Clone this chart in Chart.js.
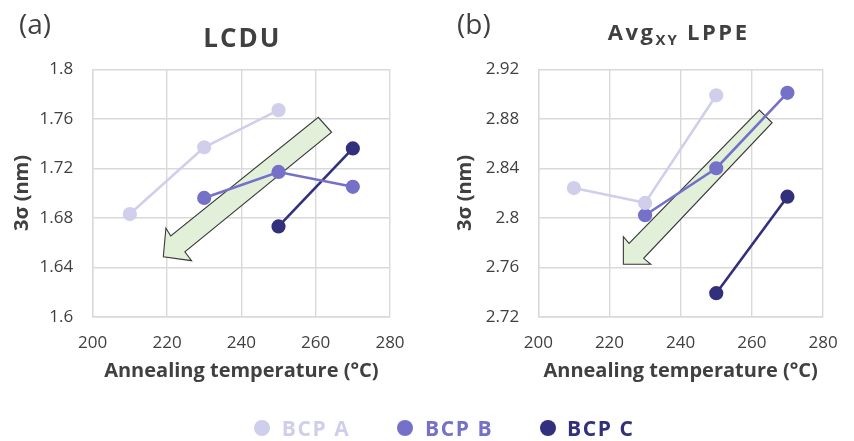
<!DOCTYPE html>
<html><head><meta charset="utf-8">
<script src="https://cdn.jsdelivr.net/npm/chart.js@4.4.1/dist/chart.umd.min.js"></script>
<style>
html,body{margin:0;padding:0;background:#fff;}
#wrap{position:relative;width:854px;height:441px;overflow:hidden;font-family:"Open Sans",Lato,sans-serif;}
canvas{position:absolute;top:0;}
#c1{left:0}
#c2{left:427px}
.leg{position:absolute;top:416px;height:24px;line-height:24px;font-weight:700;font-size:21px;letter-spacing:1.6px;white-space:nowrap;}
.dot{position:absolute;width:16px;height:16px;border-radius:50%;}
</style>
</head><body>
<div id="wrap">
<canvas id="c1" width="427" height="441"></canvas>
<canvas id="c2" width="427" height="441"></canvas>
<div id="legend"></div>
</div>
<script>
// ---- data ----
const seriesNames = ['BCP A', 'BCP B', 'BCP C'];
const tempA = [210, 230, 250];
const tempB = [230, 250, 270];
const tempC = [250, 270];
const lcduA = [1.683, 1.737, 1.767];
const lcduB = [1.696, 1.717, 1.705];
const lcduC = [1.673, 1.736];
const lppeA = [2.824, 2.812, 2.899];
const lppeB = [2.802, 2.840, 2.901];
const lppeC = [2.739, 2.817];
const xTicks = [200, 220, 240, 260, 280];
const lcduTicks = [1.6, 1.64, 1.68, 1.72, 1.76, 1.8];
const lppeTicks = [2.72, 2.76, 2.8, 2.84, 2.88, 2.92];

// ---- styles ----
const colors = ['#d0cfeb', '#7571c9', '#322f7d'];
const textColor = '#404040';
const gridColor = '#d9d9d9';
const FONT = '"Open Sans", Lato, sans-serif';

function pts(xs, ys) { return xs.map((x, i) => ({x: x, y: ys[i]})); }

function makeDatasets(a, b, c) {
  const sets = [[tempA, a], [tempB, b], [tempC, c]];
  return sets.map((s, i) => ({
    label: seriesNames[i],
    data: pts(s[0], s[1]),
    showLine: true,
    borderColor: colors[i],
    backgroundColor: colors[i],
    pointBackgroundColor: colors[i],
    pointBorderColor: colors[i],
    borderWidth: 2.6,
    pointRadius: 5.8,
    pointHoverRadius: 5.8,
    tension: 0
  }));
}

const decorPlugin = {
  id: 'decor',
  beforeDatasetsDraw(chart, args, opts) {
    const ctx = chart.ctx;
    const xs = chart.scales.x, ys = chart.scales.y;
    ctx.save();
    ctx.beginPath();
    opts.arrow.forEach((p, i) => {
      const px = xs.getPixelForValue(p[0]), py = ys.getPixelForValue(p[1]);
      if (i === 0) ctx.moveTo(px, py); else ctx.lineTo(px, py);
    });
    ctx.closePath();
    ctx.fillStyle = '#e2efd9';
    ctx.fill();
    ctx.lineWidth = 1.1;
    ctx.strokeStyle = '#3a3a3a';
    ctx.stroke();
    ctx.restore();
  },
  afterDraw(chart, args, opts) {
    const ctx = chart.ctx;
    ctx.save();
    ctx.fillStyle = textColor;
    ctx.textBaseline = 'alphabetic';
    ctx.textAlign = 'left';
    ctx.font = '400 28px ' + FONT;
    ctx.fillText(opts.panel, opts.panelX, 34);
    // title segments
    const segs = opts.title;
    let total = 0;
    segs.forEach(s => {
      ctx.font = '700 ' + s.size + 'px ' + FONT;
      ctx.letterSpacing = s.ls + 'px';
      s.w = ctx.measureText(s.text).width;
      total += s.w;
    });
    const ca = chart.chartArea;
    let x = (ca.left + ca.right) / 2 - total / 2 + (opts.titleShift || 0);
    segs.forEach(s => {
      ctx.font = '700 ' + s.size + 'px ' + FONT;
      ctx.letterSpacing = s.ls + 'px';
      ctx.fillText(s.text, x, opts.titleBase + (s.dy || 0));
      x += s.w;
    });
    ctx.letterSpacing = '0px';
    ctx.restore();
  }
};

function makeChart(id, a, b, c, yTicks, cfg) {
  return new Chart(document.getElementById(id), {
    type: 'scatter',
    data: { datasets: makeDatasets(a, b, c) },
    plugins: [decorPlugin],
    options: {
      responsive: false,
      animation: false,
      events: [],
      layout: { padding: { top: 69.3, bottom: 57.3, left: 0, right: cfg.padRight } },
      plugins: {
        legend: { display: false },
        tooltip: { enabled: false },
        decor: cfg.decor
      },
      scales: {
        x: {
          type: 'linear',
          min: xTicks[0], max: xTicks[xTicks.length - 1],
          afterBuildTicks: s => { s.ticks = xTicks.map(v => ({value: v})); },
          afterFit: s => { s.height = 67; },
          grid: { color: gridColor, lineWidth: 1.4, drawTicks: false },
          border: { color: gridColor, width: 1.4 },
          ticks: { color: textColor, padding: 16.4, font: { family: FONT, size: 17 }, maxRotation: 0 },
          title: { display: true, text: 'Annealing temperature (°C)', color: textColor,
                   font: { family: FONT, size: 20, weight: '700' }, padding: { top: 0, bottom: 0 } }
        },
        y: {
          type: 'linear',
          min: yTicks[0], max: yTicks[yTicks.length - 1],
          afterBuildTicks: s => { s.ticks = yTicks.map(v => ({value: v})); },
          afterFit: s => { s.width = cfg.yWidth; },
          grid: { color: gridColor, lineWidth: 1.4, drawTicks: false },
          border: { color: gridColor, width: 1.4 },
          ticks: { color: textColor, padding: cfg.tickPad, font: { family: FONT, size: 17 },
                   callback: v => String(+v.toFixed(2)) },
          title: { display: true, text: '3σ (nm)', color: textColor,
                   font: { family: FONT, size: 20, weight: '700' }, padding: { top: cfg.yTitlePad, bottom: 0 } }
        }
      }
    }
  });
}

makeChart('c1', lcduA, lcduB, lcduC, lcduTicks, {
  padRight: 37, yWidth: 92.7, tickPad: 19.5, yTitlePad: 10,
  decor: {
    panel: '(a)', panelX: 19,
    title: [{text: 'LCDU', size: 26, ls: 2}], titleBase: 46.7, titleShift: 1,
    arrow: [[219.0,1.6485],[219.7,1.6715],[221.0,1.6652],[260.7,1.7612],[264.3,1.7491],[224.8,1.6525],[226.6,1.6453]]
  }
});
makeChart('c2', lppeA, lppeB, lppeC, lppeTicks, {
  padRight: 18, yWidth: 111.3, tickPad: 19, yTitlePad: 26,
  decor: {
    panel: '(b)', panelX: 30,
    title: [{text: 'Avg', size: 22, ls: 2.5}, {text: 'XY', size: 15, dy: 5, ls: 2}, {text: ' LPPE', size: 22, ls: 2.5}], titleBase: 40, titleShift: -2,
    arrow: [[223.9,2.7624],[223.9,2.7847],[225.5,2.7793],[262.1,2.8871],[265.7,2.8768],[229.6,2.7672],[231.6,2.7624]]
  }
});

// ---- legend ----
const legPos = [[253.5, 281.7], [397, 425], [540, 567]];
const legend = document.getElementById('legend');
seriesNames.forEach((n, i) => {
  const d = document.createElement('div');
  d.className = 'dot';
  d.style.left = legPos[i][0] + 'px';
  d.style.top = '420px';
  d.style.background = colors[i];
  legend.appendChild(d);
  const t = document.createElement('div');
  t.className = 'leg';
  t.style.left = legPos[i][1] + 'px';
  t.style.color = colors[i];
  t.textContent = n;
  legend.appendChild(t);
});
</script>
</body></html>
